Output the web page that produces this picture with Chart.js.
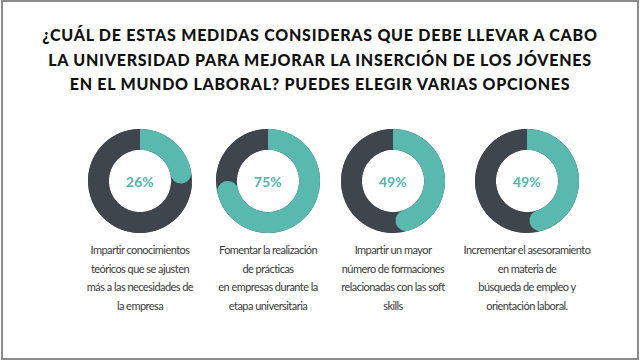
<!DOCTYPE html>
<html lang="es">
<head>
<meta charset="UTF-8">
<title>Medidas universidad</title>
<script src="https://cdn.jsdelivr.net/npm/chart.js"></script>
<style>
    html, body {
        margin: 0;
        padding: 0;
        width: 640px;
        height: 361px;
        background: #ffffff;
        overflow: hidden;
        position: relative;
    }
    #frame {
        position: absolute;
        left: 1px;
        top: 0;
        width: 638px;
        height: 360px;
        box-sizing: border-box;
        border: 2px solid #8c8c8c;
    }
    #title {
        position: absolute;
        left: 0;
        top: 23px;
        width: 640px;
        margin: 0;
        text-align: center;
        font-family: "Lato", sans-serif;
        font-weight: 900;
        font-size: 16px;
        line-height: 24.5px;
        letter-spacing: 0.75px;
        color: #111111;
    }
    .donut {
        position: absolute;
        top: 129px;
    }
    .caption {
        position: absolute;
        top: 241px;
        width: 160px;
        text-align: center;
        font-family: "Lato", sans-serif;
        font-weight: 400;
        font-size: 11px;
        line-height: 18.5px;
        letter-spacing: -0.55px;
        color: #3a3a3a;
        white-space: nowrap;
    }
</style>
</head>
<body>
<div id="frame"></div>
<h1 id="title">¿CUÁL DE ESTAS MEDIDAS CONSIDERAS QUE DEBE LLEVAR A CABO<br>LA UNIVERSIDAD PARA MEJORAR LA INSERCIÓN DE LOS JÓVENES<br>EN EL MUNDO LABORAL? PUEDES ELEGIR VARIAS OPCIONES</h1>

<script>
    // data
    const categories = [
        ['Impartir conocimientos', 'teóricos que se ajusten', 'más a las necesidades de', 'la empresa'],
        ['Fomentar la realización', 'de prácticas', 'en empresas durante la', 'etapa universitaria'],
        ['Impartir un mayor', 'número de formaciones', 'relacionadas con las soft', 'skills'],
        ['Incrementar el asesoramiento', 'en materia de', 'búsqueda de empleo y', 'orientación laboral.']
    ];
    const percentValues = [26, 75, 49, 49];

    // layout
    const columnCenters = [140, 268, 393, 527];
    const ringSize = 104;
    const teal = '#5ab9ae';
    const dark = '#3f454c';

    // draws the dark full ring under the arcs and the percentage in the middle
    const ringPlugin = {
        id: 'ring',
        beforeDatasetsDraw(chart) {
            const arc = chart.getDatasetMeta(0).data[0];
            const ctx = chart.ctx;
            ctx.save();
            ctx.beginPath();
            ctx.arc(arc.x, arc.y, arc.outerRadius, 0, Math.PI * 2);
            ctx.arc(arc.x, arc.y, arc.innerRadius, 0, Math.PI * 2, true);
            ctx.fillStyle = dark;
            ctx.fill();
            ctx.restore();
        },
        afterDatasetsDraw(chart) {
            const arc = chart.getDatasetMeta(0).data[0];
            const ctx = chart.ctx;
            ctx.save();
            ctx.font = '900 14px Lato';
            ctx.fillStyle = teal;
            ctx.textAlign = 'center';
            ctx.textBaseline = 'middle';
            ctx.fillText(chart.data.datasets[0].data[0] + '%', arc.x, arc.y + 1);
            ctx.restore();
        }
    };

    percentValues.forEach((value, i) => {
        const canvas = document.createElement('canvas');
        canvas.className = 'donut';
        canvas.width = ringSize;
        canvas.height = ringSize;
        canvas.style.left = (columnCenters[i] - ringSize / 2) + 'px';
        document.body.appendChild(canvas);

        const caption = document.createElement('div');
        caption.className = 'caption';
        caption.style.left = (columnCenters[i] - 80) + 'px';
        caption.innerHTML = categories[i].join('<br>');
        document.body.appendChild(caption);

        new Chart(canvas.getContext('2d'), {
            type: 'doughnut',
            data: {
                labels: ['Sí', 'No'],
                datasets: [{
                    data: [value, 100 - value],
                    backgroundColor: [teal, dark],
                    borderWidth: 0,
                    borderRadius: ctx => ctx.dataIndex === 0
                        ? { outerStart: 0, innerStart: 0, outerEnd: 30, innerEnd: 30 }
                        : 0
                }]
            },
            options: {
                responsive: false,
                animation: false,
                events: [],
                cutout: '60%',
                plugins: {
                    legend: { display: false },
                    tooltip: { enabled: false }
                }
            },
            plugins: [ringPlugin]
        });
    });
</script>
</body>
</html>
